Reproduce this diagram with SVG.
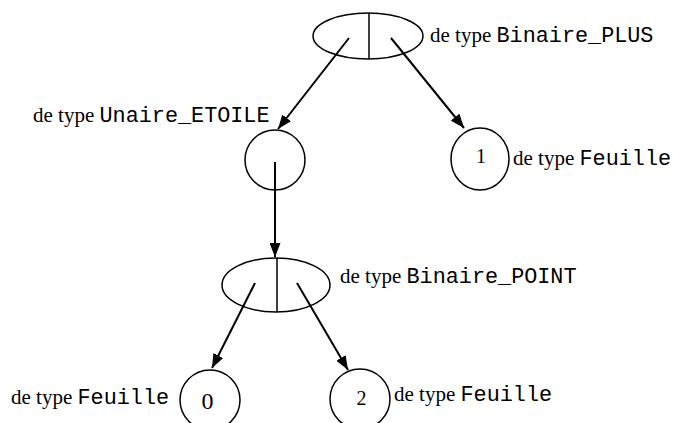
<svg xmlns="http://www.w3.org/2000/svg" width="674" height="423" viewBox="0 0 674 423">
<style>
.n{fill:none;stroke:#000;stroke-width:1.5}
.c{fill:none;stroke:#000;stroke-width:2}
.t{font-family:"Liberation Serif",serif;font-size:21px;fill:#000}
.m{font-family:"Liberation Mono",monospace;font-size:21.8px}
.d{font-family:"Liberation Serif",serif;font-size:20px;fill:#000;text-anchor:middle}
</style>
<defs>
<marker id="ah" viewBox="0 0 14 11" refX="14" refY="5.5" markerWidth="14" markerHeight="11" markerUnits="userSpaceOnUse" orient="auto">
<path d="M0,0 L14,5.5 L0,11 z" fill="#000"/>
</marker>
</defs>
<g id="connectors">
<line class="c" x1="349" y1="38" x2="278" y2="129" marker-end="url(#ah)"/>
<line class="c" x1="391" y1="38" x2="464" y2="128" marker-end="url(#ah)"/>
<line class="c" x1="275" y1="162" x2="275" y2="257" marker-end="url(#ah)"/>
<line class="c" x1="255" y1="283" x2="212" y2="368" marker-end="url(#ah)"/>
<line class="c" x1="297" y1="283" x2="348" y2="370" marker-end="url(#ah)"/>
</g>
<g id="binaire_plus">
<ellipse class="n" cx="368" cy="36" rx="55" ry="23"/>
<line class="n" x1="369" y1="13" x2="369" y2="59"/>
<text class="t" x="430" y="42">de type <tspan class="m">Binaire_PLUS</tspan></text>
</g>
<g id="unaire_etoile">
<ellipse class="n" cx="275" cy="160" rx="30" ry="30"/>
<text class="t" x="33" y="122">de type <tspan class="m">Unaire_ETOILE</tspan></text>
</g>
<g id="feuille_1">
<ellipse class="n" cx="480" cy="159" rx="29" ry="31"/>
<text class="d" x="481" y="163">1</text>
<text class="t" x="513" y="165">de type <tspan class="m">Feuille</tspan></text>
</g>
<g id="binaire_point">
<ellipse class="n" cx="276" cy="285" rx="54" ry="27"/>
<line class="n" x1="277" y1="258" x2="277" y2="312"/>
<text class="t" x="340" y="283">de type <tspan class="m">Binaire_POINT</tspan></text>
</g>
<g id="feuille_0">
<ellipse class="n" cx="210" cy="400" rx="30" ry="30"/>
<text class="d" x="207.5" y="409" style="font-size:24px">0</text>
<text class="t" x="11" y="404">de type <tspan class="m">Feuille</tspan></text>
</g>
<g id="feuille_2">
<ellipse class="n" cx="360" cy="399" rx="30" ry="30"/>
<text class="d" x="361.5" y="405">2</text>
<text class="t" x="394" y="401">de type <tspan class="m">Feuille</tspan></text>
</g>
</svg>
